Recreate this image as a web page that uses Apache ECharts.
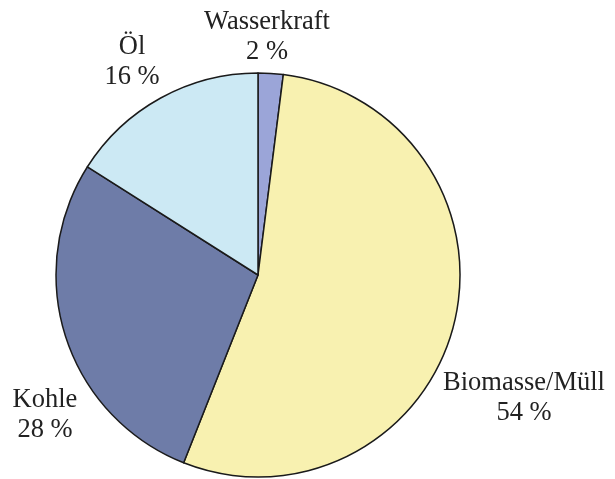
<!DOCTYPE html>
<html>
<head>
<meta charset="utf-8">
<script src="https://cdn.jsdelivr.net/npm/echarts@6/dist/echarts.min.js"></script>
<style>
  html, body { margin: 0; padding: 0; background: #fff; }
  #chart { width: 615px; height: 479px; }
</style>
</head>
<body>
<div id="chart"></div>
<script>
// Anteile in %
const categories = ["Wasserkraft", "Biomasse/Müll", "Kohle", "Öl"];
const values = [2, 54, 28, 16];
const colors = ["#9ba5d8", "#f8f1b0", "#6e7ca8", "#cce9f4"];
// Label-Mittelpunkte (Pixel)
const labelPos = [[267, 37], [524, 398], [45, 415], [132, 62]];

const chart = echarts.init(document.getElementById("chart"));

chart.setOption({
  animation: false,
  series: [
    {
      type: "pie",
      center: [258, 275],
      radius: 202,
      startAngle: 90,
      clockwise: true,
      data: categories.map((name, i) => ({
        name: name,
        value: values[i],
        itemStyle: { color: colors[i] },
      })),
      itemStyle: {
        borderColor: "#1a1a1a",
        borderWidth: 1.5,
      },
      label: {
        show: true,
        position: "inside",
        formatter: "{b}\n{c} %",
        fontFamily: "Liberation Serif",
        fontSize: 26.5,
        lineHeight: 30,
        color: "#222",
        align: "center",
        overflow: "none",
      },
      labelLine: { show: false },
      labelLayout: (params) => {
        const p = labelPos[params.dataIndex];
        return { x: p[0], y: p[1], align: "center", verticalAlign: "middle" };
      },
      emphasis: { disabled: true },
    },
  ],
});
</script>
</body>
</html>
